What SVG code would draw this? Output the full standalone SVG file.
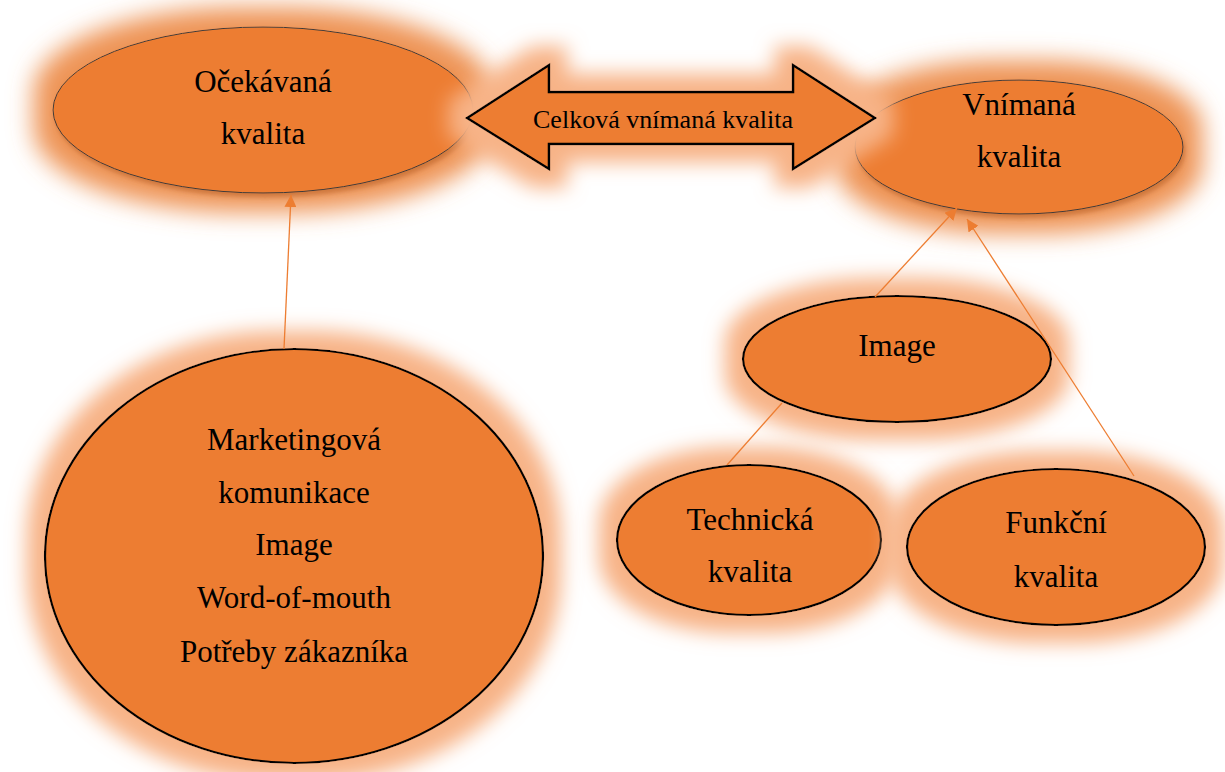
<svg xmlns="http://www.w3.org/2000/svg" width="1225" height="772" viewBox="0 0 1225 772">
<style>
  .fill { fill: #ED7D31; }
  .thin { stroke: #3a3a3a; stroke-width: 1; }
  .thick { stroke: #000; stroke-width: 2.2; }
  .lbl { font-family: "Liberation Serif", "Times New Roman", serif; font-size: 31px; fill: #000; text-anchor: middle; }
  .lbl2 { font-family: "Liberation Serif", "Times New Roman", serif; font-size: 26px; fill: #000; text-anchor: middle; }
  .conn { stroke: #ED7D31; stroke-width: 1.3; fill: none; }
</style>
<defs>
  <filter id="glow" x="-40%" y="-40%" width="180%" height="180%">
    <feMorphology in="SourceAlpha" operator="dilate" radius="17" result="d"/>
    <feGaussianBlur in="d" stdDeviation="10" result="b"/>
    <feFlood flood-color="#F7B387"/>
    <feComposite in2="b" operator="in" result="g"/>
    <feMerge><feMergeNode in="g"/><feMergeNode in="SourceGraphic"/></feMerge>
  </filter>
  <filter id="glowStrong" x="-40%" y="-60%" width="180%" height="220%">
    <feMorphology in="SourceAlpha" operator="dilate" radius="19" result="d"/>
    <feGaussianBlur in="d" stdDeviation="12" result="b"/>
    <feFlood flood-color="#EE9456"/>
    <feComposite in2="b" operator="in" result="g"/>
    <feOffset in="SourceAlpha" dx="2" dy="4" result="o"/>
    <feGaussianBlur in="o" stdDeviation="2" result="ob"/>
    <feFlood flood-color="#B85F22" flood-opacity="0.6"/>
    <feComposite in2="ob" operator="in" result="sh"/>
    <feMerge><feMergeNode in="g"/><feMergeNode in="sh"/><feMergeNode in="SourceGraphic"/></feMerge>
  </filter>
  <marker id="ah" viewBox="0 0 10 10" refX="10" refY="5" markerWidth="12" markerHeight="12" markerUnits="userSpaceOnUse" orient="auto">
    <path d="M0,0 L10,5 L0,10 z" fill="#ED7D31"/>
  </marker>
</defs>
<rect width="1225" height="772" fill="#fff"/>

<g id="node-ocekavana">
  <ellipse class="fill thin" cx="263" cy="110" rx="210" ry="83" filter="url(#glowStrong)"/>
  <text class="lbl" x="263" y="92">Očekávaná</text>
  <text class="lbl" x="263" y="144">kvalita</text>
</g>

<g id="node-vnimana">
  <ellipse class="fill thin" cx="1019" cy="147" rx="164" ry="67" filter="url(#glowStrong)"/>
  <text class="lbl" x="1019" y="115">Vnímaná</text>
  <text class="lbl" x="1019" y="167">kvalita</text>
</g>

<g id="node-marketing">
  <ellipse class="fill thick" cx="294" cy="556" rx="249" ry="207" filter="url(#glow)"/>
  <text class="lbl" x="294" y="450">Marketingová</text>
  <text class="lbl" x="294" y="503">komunikace</text>
  <text class="lbl" x="294" y="555">Image</text>
  <text class="lbl" x="294" y="608">Word-of-mouth</text>
  <text class="lbl" x="294" y="662">Potřeby zákazníka</text>
</g>

<g id="node-image">
  <ellipse class="fill thick" cx="897" cy="359" rx="154" ry="63" filter="url(#glow)"/>
  <text class="lbl" x="897" y="356">Image</text>
</g>

<g id="node-technicka">
  <ellipse class="fill thick" cx="749" cy="540" rx="132" ry="75" filter="url(#glow)"/>
  <text class="lbl" x="750" y="530">Technická</text>
  <text class="lbl" x="750" y="582">kvalita</text>
</g>

<g id="node-funkcni">
  <ellipse class="fill thick" cx="1056" cy="547" rx="149" ry="78" filter="url(#glow)"/>
  <text class="lbl" x="1056" y="533">Funkční</text>
  <text class="lbl" x="1056" y="587">kvalita</text>
</g>

<g id="node-celkova">
  <polygon class="fill" stroke="#000" stroke-width="2.5" stroke-linejoin="miter" filter="url(#glow)"
    points="467,118 549,65 549,92 793,92 793,65 875,118 793,169 793,144 549,144 549,169"/>
  <text class="lbl2" x="663" y="128">Celková vnímaná kvalita</text>
</g>

<g id="connectors">
  <line class="conn" x1="284" y1="349" x2="291" y2="195" marker-end="url(#ah)"/>
  <line class="conn" x1="875" y1="297" x2="957" y2="208" marker-end="url(#ah)"/>
  <line class="conn" x1="1134" y1="476" x2="967" y2="219" marker-end="url(#ah)"/>
  <line class="conn" x1="782" y1="403" x2="727" y2="465"/>
</g>
</svg>
